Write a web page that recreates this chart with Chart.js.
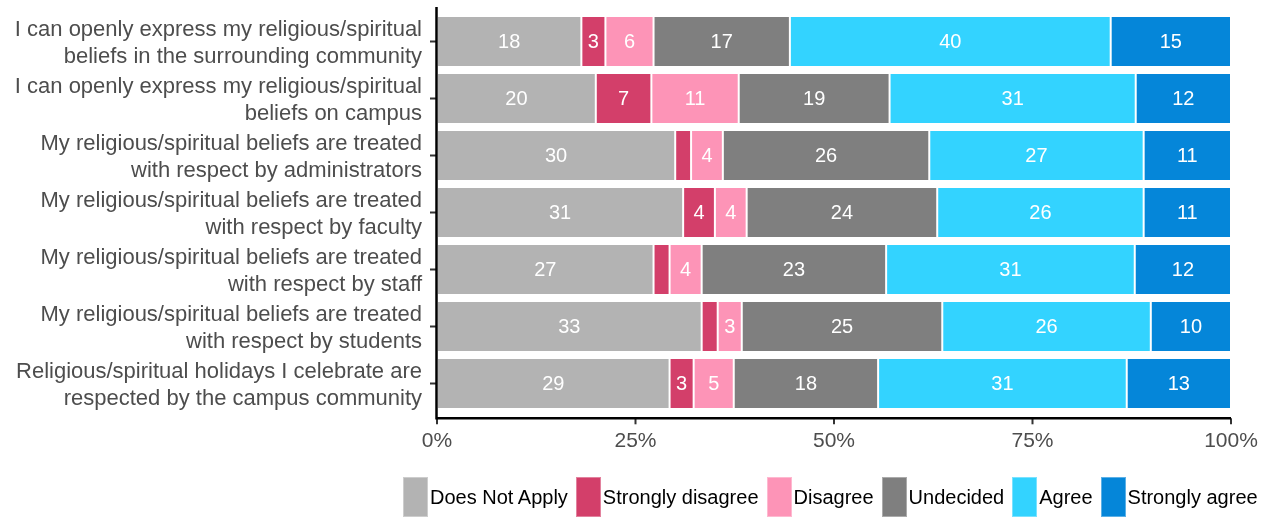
<!DOCTYPE html>
<html>
<head>
<meta charset="utf-8">
<script src="https://cdn.jsdelivr.net/npm/chart.js@4"></script>
<style>
    body { margin: 0; background: #fff; font-family: "Liberation Sans", Arial, sans-serif; }
    #wrap { position: relative; width: 1270px; height: 519px; }
    #legend { position: absolute; left: 403px; top: 477px; display: flex; align-items: center; white-space: nowrap; }
    .item { display: flex; align-items: center; margin-right: 8px; font-size: 20px; color: #000; }
    .box { width: 25px; height: 40px; margin-right: 2px; box-sizing: border-box; border: 1px solid rgba(255,255,255,0.35); }
</style>
</head>
<body>
<div id="wrap">
    <canvas id="chart"></canvas>
    <div id="legend"></div>
</div>
<script>
const categories = [
    ['I can openly express my religious/spiritual', 'beliefs in the surrounding community'],
    ['I can openly express my religious/spiritual', 'beliefs on campus'],
    ['My religious/spiritual beliefs are treated', 'with respect by administrators'],
    ['My religious/spiritual beliefs are treated', 'with respect by faculty'],
    ['My religious/spiritual beliefs are treated', 'with respect by staff'],
    ['My religious/spiritual beliefs are treated', 'with respect by students'],
    ['Religious/spiritual holidays I celebrate are', 'respected by the campus community']
];
const seriesNames = ['Does Not Apply', 'Strongly disagree', 'Disagree', 'Undecided', 'Agree', 'Strongly agree'];
const seriesColors = ['#b3b3b3', '#d33f6a', '#fd94b7', '#7f7f7f', '#33d3ff', '#0586d9'];

const doesNotApply = [18, 20, 30, 31, 27, 33, 29];
const stronglyDisagree = [3, 7, 2, 4, 2, 2, 3];
const disagree = [6, 11, 4, 4, 4, 3, 5];
const undecided = [17, 19, 26, 24, 23, 25, 18];
const agree = [40, 31, 27, 26, 31, 26, 31];
const stronglyAgree = [15, 12, 11, 11, 12, 10, 13];

const xTicks = [0, 25, 50, 75, 100];

const allSeries = [doesNotApply, stronglyDisagree, disagree, undecided, agree, stronglyAgree];
// rounded percentages don't always add up to 100, so stretch each row to fill
const rowTotals = categories.map((_, i) => allSeries.reduce((s, arr) => s + arr[i], 0));

const FONT = '"Liberation Sans", Arial, sans-serif';

const datasets = allSeries.map((arr, k) => ({
    label: seriesNames[k],
    data: arr.map((v, i) => v / rowTotals[i] * 100),
    raw: arr,
    backgroundColor: seriesColors[k],
    borderColor: '#ffffff',
    borderWidth: 1,
    borderSkipped: false,
    barPercentage: 0.895,
    categoryPercentage: 1
}));

const barLabels = {
    id: 'barLabels',
    afterDatasetsDraw(chart) {
        const ctx = chart.ctx;
        ctx.save();
        ctx.font = '20px ' + FONT;
        ctx.fillStyle = '#ffffff';
        ctx.textAlign = 'center';
        ctx.textBaseline = 'middle';
        chart.data.datasets.forEach((ds, k) => {
            chart.getDatasetMeta(k).data.forEach((el, i) => {
                if (ds.raw[i] < 3) return;
                ctx.fillText(String(ds.raw[i]), (el.x + el.base) / 2, el.y + 1);
            });
        });
        ctx.restore();
    }
};

const axisLines = {
    id: 'axisLines',
    afterDraw(chart) {
        const ctx = chart.ctx;
        const area = chart.chartArea;
        const xs = chart.scales.x, ys = chart.scales.y;
        const ax = area.left - 0.5;
        const ay = area.bottom + 6.3;
        ctx.save();
        ctx.strokeStyle = '#333';
        ctx.lineWidth = 2;
        ys.ticks.forEach((t, i) => {
            const y = ys.getPixelForTick(i);
            ctx.beginPath(); ctx.moveTo(ax - 6.5, y); ctx.lineTo(ax, y); ctx.stroke();
        });
        xTicks.forEach(v => {
            const x = xs.getPixelForValue(v);
            ctx.beginPath(); ctx.moveTo(x, ay); ctx.lineTo(x, ay + 6); ctx.stroke();
        });
        ctx.strokeStyle = '#000';
        ctx.lineWidth = 2.5;
        ctx.beginPath();
        ctx.moveTo(ax, area.top - 6);
        ctx.lineTo(ax, ay);
        ctx.lineTo(area.right, ay);
        ctx.stroke();
        ctx.restore();
    }
};

const chart = new Chart(document.getElementById('chart'), {
    type: 'bar',
    data: { labels: categories, datasets },
    options: {
        indexAxis: 'y',
        responsive: true,
        maintainAspectRatio: false,
        animation: false,
        layout: { padding: { top: 13, right: 39, bottom: 57, left: 0 } },
        plugins: { legend: { display: false }, tooltip: { enabled: false } },
        scales: {
            x: {
                stacked: true,
                min: 0,
                max: 100,
                afterBuildTicks: s => { s.ticks = xTicks.map(v => ({ value: v })); },
                afterFit: s => { s.height = 50; s.paddingLeft = 0; s.paddingRight = 0; },
                grid: { display: false, drawTicks: false },
                border: { display: false },
                ticks: {
                    color: '#4d4d4d',
                    padding: 17,
                    font: { size: 21, family: FONT },
                    callback: v => v + '%'
                }
            },
            y: {
                stacked: true,
                afterFit: s => { s.width = 437; s.paddingTop = 0; s.paddingBottom = 0; },
                grid: { display: false, drawTicks: false },
                border: { display: false },
                ticks: {
                    autoSkip: false,
                    labelOffset: 2,
                    color: '#4d4d4d',
                    padding: 15,
                    font: { size: 22, family: FONT, lineHeight: 1.25 }
                }
            }
        }
    },
    plugins: [barLabels, axisLines]
});

document.getElementById('legend').innerHTML = chart.data.datasets.map(ds => `
    <div class="item"><span class="box" style="background:${ds.backgroundColor}"></span><span>${ds.label}</span></div>
`).join('');
</script>
</body>
</html>
